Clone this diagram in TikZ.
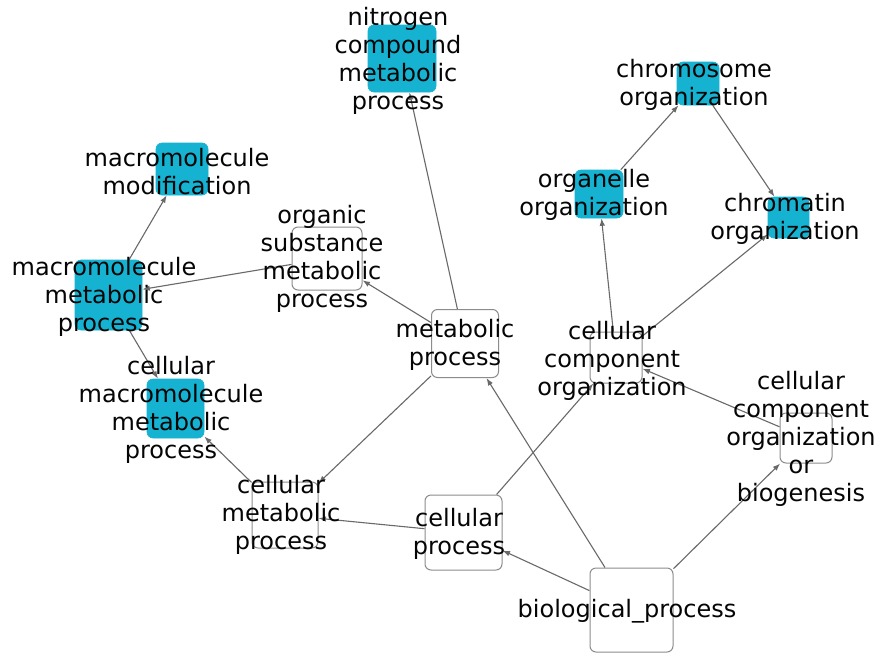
\documentclass[tikz,border=0pt]{standalone}
\usepackage{fontspec}
\setmainfont{DejaVu Sans}
\usetikzlibrary{arrows.meta}
\definecolor{cyanc}{RGB}{22,178,210}
\definecolor{boxgray}{RGB}{140,140,140}
\definecolor{edgegray}{RGB}{105,105,105}
\definecolor{txt}{RGB}{5,5,5}
\tikzset{
  box/.style={draw=boxgray, line width=1pt, rounded corners=6pt, inner sep=0pt, fill=white},
  cbox/.style={draw=cyanc, fill=cyanc, line width=0.6pt, rounded corners=6pt, inner sep=0pt},
  lbl/.style={align=center, inner sep=0pt, font=\fontsize{24}{28}\selectfont, text=txt},
  edge/.style={draw=edgegray, line width=1.1pt, -{Latex[length=7.5pt,width=5.5pt]}}
}
\begin{document}
\begin{tikzpicture}[x=1pt,y=-1pt]
\fill[white] (0,0) rectangle (879,654);
\useasboundingbox (0,0) rectangle (879,654);
% boxes
\node[cbox, minimum width=68pt, minimum height=67pt] (nit) at (402,58.5) {};
\node[cbox, minimum width=52pt, minimum height=52pt] (mmod) at (182,169) {};
\node[cbox, minimum width=67pt, minimum height=70pt] (mmp) at (108.5,295) {};
\node[box, minimum width=70pt, minimum height=63pt] (osmp) at (327,258.5) {};
\node[box, minimum width=67pt, minimum height=68pt] (mp) at (465,343.5) {};
\node[box, minimum width=52pt, minimum height=51pt] (cco) at (616,357.5) {};
\node[box, minimum width=52pt, minimum height=50pt] (ccob) at (806,438) {};
\node[box, minimum width=83pt, minimum height=84pt] (bp) at (631.5,610) {};
\node[box, minimum width=77pt, minimum height=75pt] (cp) at (463.5,532.5) {};
\node[box, minimum width=66pt, minimum height=66pt] (cmp) at (285,515) {};
\node[cbox, minimum width=57pt, minimum height=59pt] (cmmp) at (175.5,408.5) {};
\node[cbox, minimum width=48pt, minimum height=48pt] (org) at (599,194) {};
\node[cbox, minimum width=42pt, minimum height=43pt] (chro) at (698,83.5) {};
\node[cbox, minimum width=41pt, minimum height=41pt] (chrt) at (788.5,217.5) {};
% edges
\draw[edge] (mmp) -- (mmod);
\draw[edge] (osmp) -- (mmp);
\draw[edge] (mmp) -- (cmmp);
\draw[edge] (mp) -- (osmp);
\draw[edge] (mp) -- (nit);
\draw[edge] (mp) -- (cmp);
\draw[edge] (cmp) -- (cmmp);
\draw[edge] (cp) -- (cmp);
\draw[edge] (cp) -- (cco);
\draw[edge] (bp) -- (cp);
\draw[edge] (bp) -- (mp);
\draw[edge] (bp) -- (ccob);
\draw[edge] (ccob) -- (cco);
\draw[edge] (cco) -- (org);
\draw[edge] (cco) -- (chrt);
\draw[edge] (org) -- (chro);
\draw[edge] (chro) -- (chrt);
% labels
\node[lbl] (nitT) at (398,61) {nitrogen\\compound\\metabolic\\process};
\node[lbl] (mmodT) at (177,172) {macromolecule\\modification};
\node[lbl] (mmpT) at (104,297) {macromolecule\\metabolic\\process};
\node[lbl] (osmpT) at (322,259) {organic\\substance\\metabolic\\process};
\node[lbl] (mpT) at (455,345) {metabolic\\process};
\node[lbl] (ccoT) at (612,361) {cellular\\component\\organization};
\node[lbl] (ccobT) at (801,439) {cellular\\component\\organization\\or\\biogenesis};
\node[lbl] (bpT) at (627,611) {biological\_process};
\node[lbl] (cpT) at (459,534) {cellular\\process};
\node[lbl] (cmpT) at (281,515) {cellular\\metabolic\\process};
\node[lbl] (cmmpT) at (171,410) {cellular\\macromolecule\\metabolic\\process};
\node[lbl] (orgT) at (594,195) {organelle\\organization};
\node[lbl] (chroT) at (694,85) {chromosome\\organization};
\node[lbl] (chrtT) at (785,219) {chromatin\\organization};
\end{tikzpicture}
\end{document}
